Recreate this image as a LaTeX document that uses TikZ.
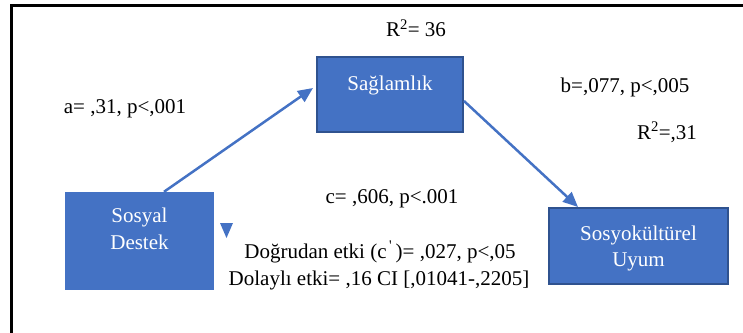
\documentclass[tikz,border=0pt]{standalone}
\usepackage{fontspec}
\setmainfont{Liberation Serif}
\usetikzlibrary{arrows.meta}
\definecolor{boxblue}{HTML}{4472C4}
\definecolor{edgeblue}{HTML}{2F528F}

\begin{document}
\begin{tikzpicture}[x=1pt,y=1pt,
  every node/.style={font=\fontsize{21}{27}\selectfont},
  varbox/.style={fill=boxblue,text=white,align=center,inner sep=0pt},
  effect/.style={draw=boxblue,line width=2.5pt,-{Triangle[length=15pt,width=13pt]}}]
\useasboundingbox (0,0) rectangle (743,-332);
\clip (0,0) rectangle (743,-332);
\draw[line width=3pt] (11,-345) -- (11,-5) -- (755,-5);

\node[varbox,minimum width=149pt,minimum height=98pt,text height=31pt,text depth=15pt] (sosyal) at (139.5,-241) {Sosyal\\Destek};
\node[varbox,draw=edgeblue,line width=2pt,minimum width=146pt,minimum height=75pt,text height=15pt,text depth=24pt] (sag) at (390,-94.5) {Sağlamlık};
\node[varbox,draw=edgeblue,line width=2pt,minimum width=179pt,minimum height=76pt,text height=50pt,text depth=10pt,font=\fontsize{21}{26}\selectfont] (uyum) at (638.5,-246) {Sosyokültürel\\Uyum};

\draw[effect] ([xshift=24.5pt]sosyal.north) -- ([xshift=-3pt,yshift=6.5pt]sag.west);
\draw[effect] ([yshift=-6.5pt]sag.east) -- ([xshift=-60.5pt]uyum.north);

\fill[boxblue] (220,-223) -- (233,-223) -- (226.5,-238) -- cycle;

\node (r2a) at (416,-28) {R\textsuperscript{2}= 36};
\node (apath) at (125,-109) {a= ,31, p<,001};
\node (bpath) at (625,-87) {b=,077, p<,005};
\node (r2b) at (667,-132) {R\textsuperscript{2}=,31};
\node (cpath) at (392,-199) {c= ,606, p<.001};
\node (direct) at (380,-252) {Doğrudan etki (c\textsuperscript{\,\textquotesingle}\,)= ,027, p<,05};
\node (indirect) at (379,-280) {Dolaylı etki= ,16 CI [,01041-,2205]};

\end{tikzpicture}
\end{document}
